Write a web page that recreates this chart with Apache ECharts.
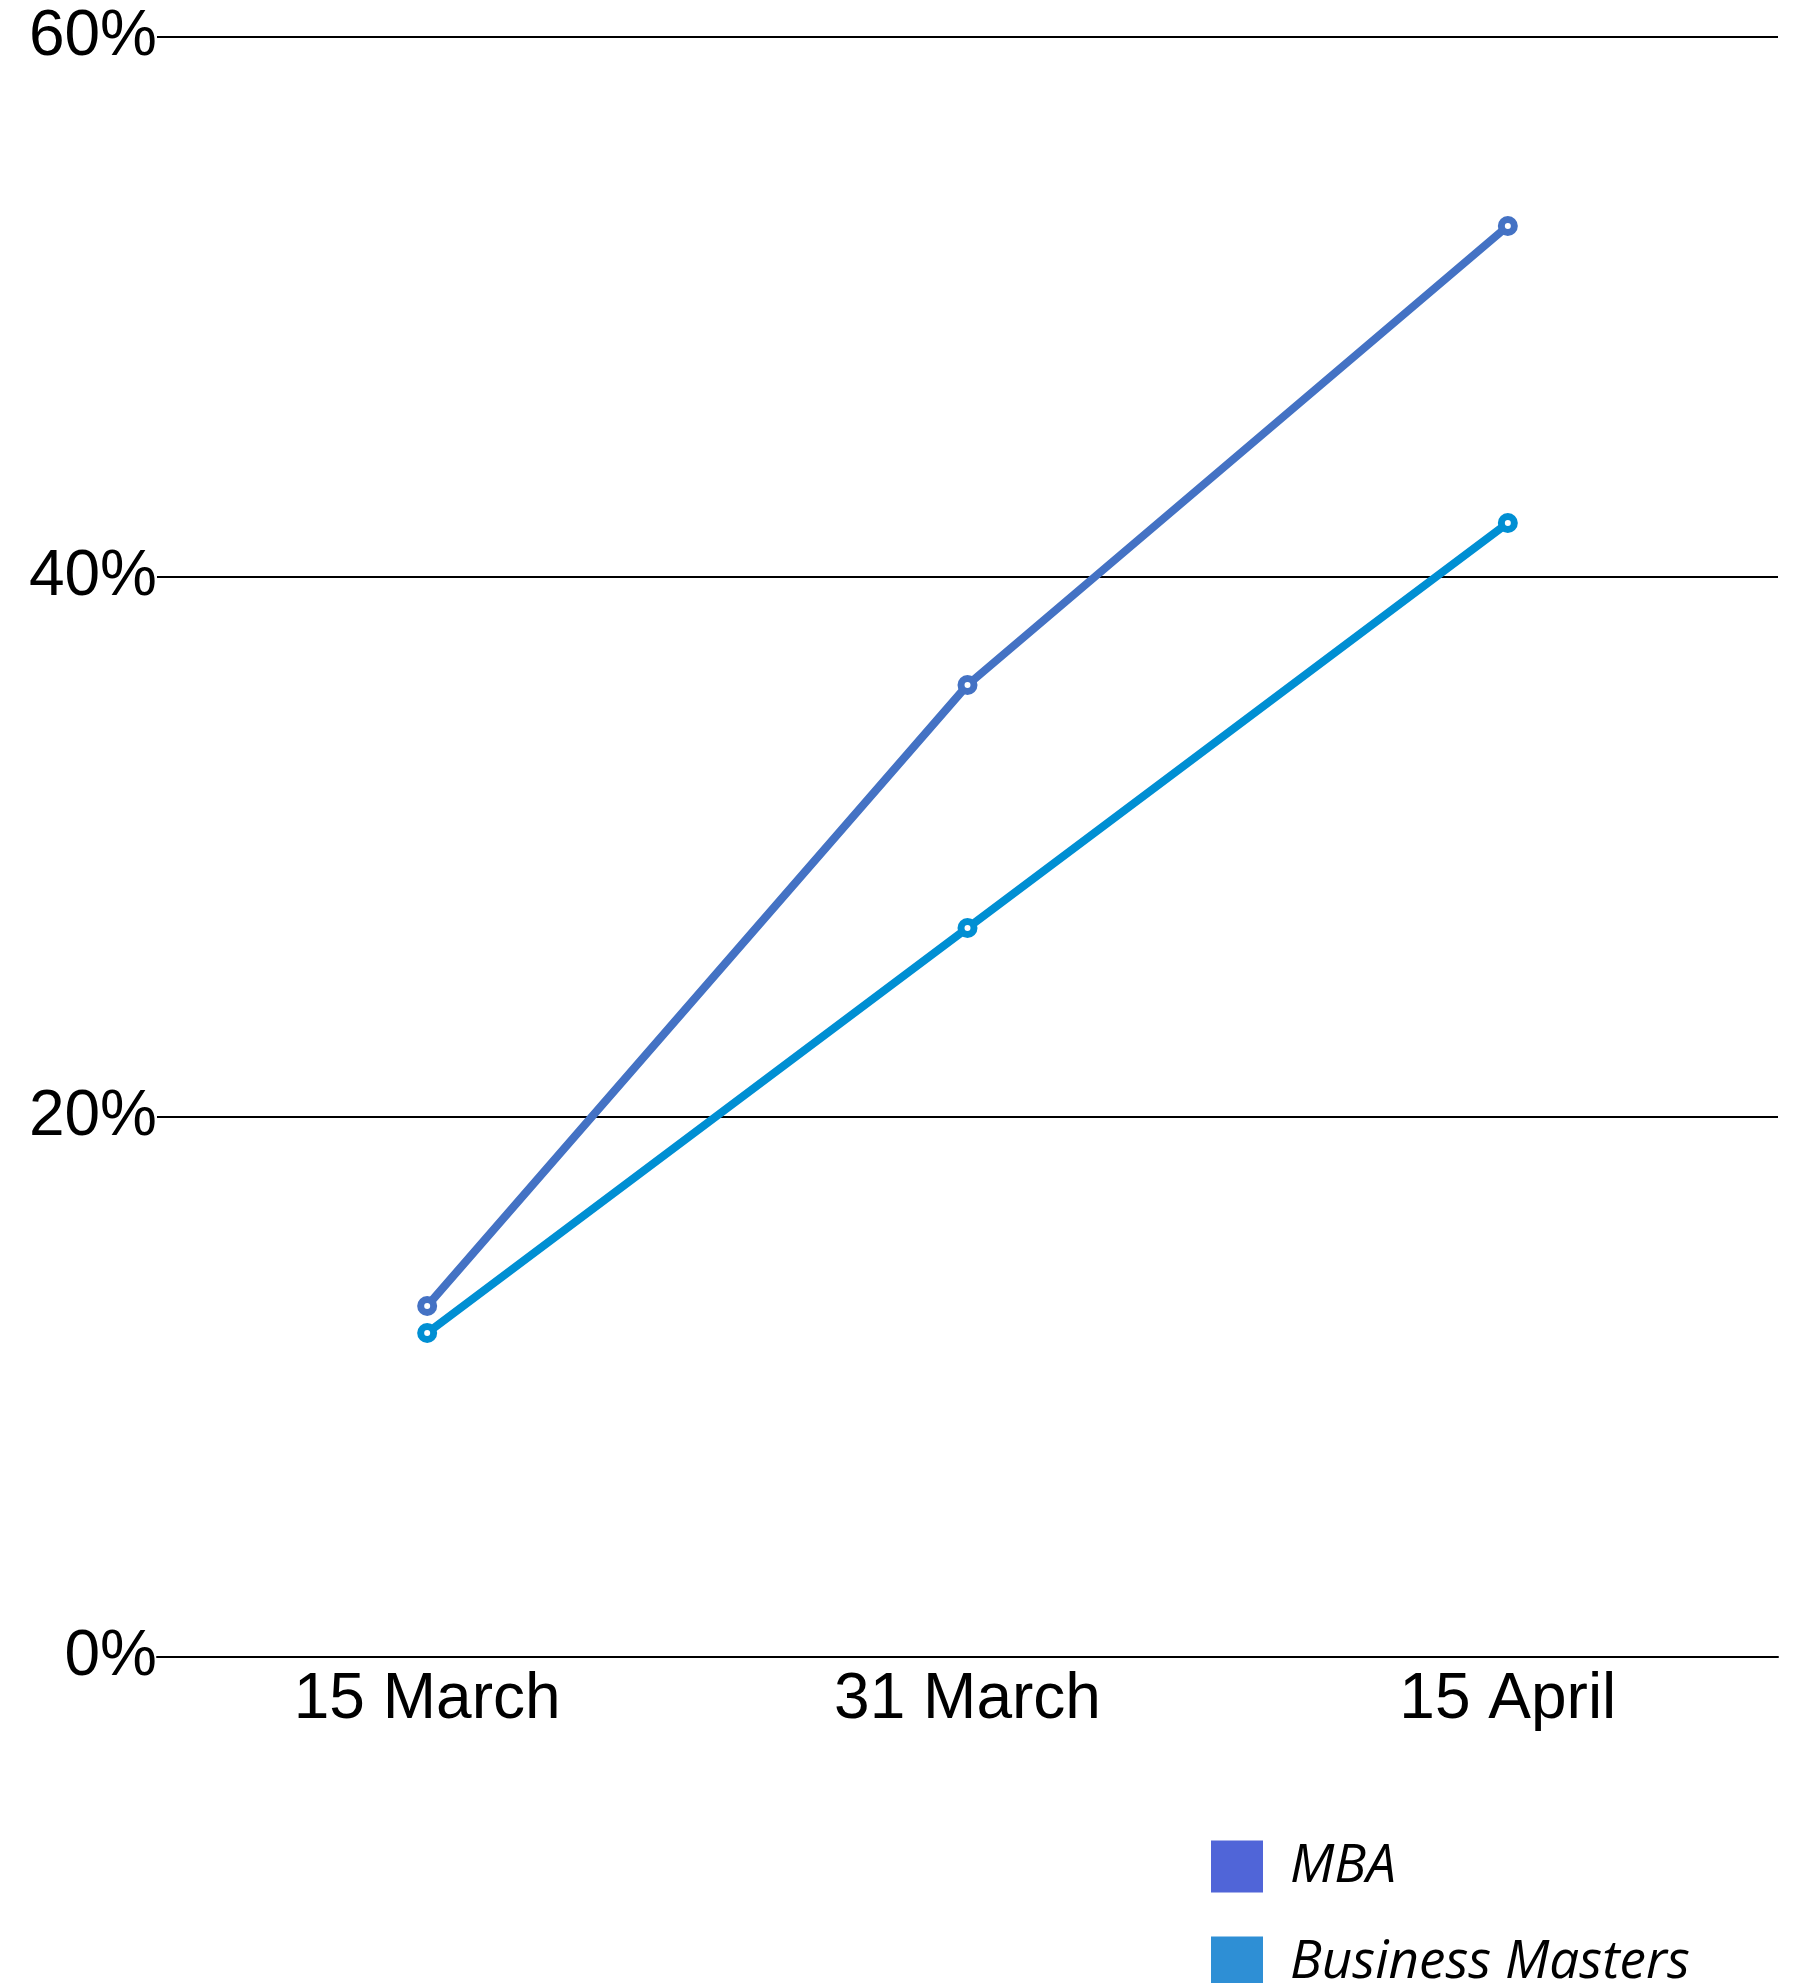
<!DOCTYPE html>
<html>
<head>
<meta charset="utf-8">
<style>
  html, body { margin: 0; padding: 0; background: #fff; }
  #main { width: 1802px; height: 1983px; }
</style>
<script src="https://cdn.jsdelivr.net/npm/echarts@6/dist/echarts.min.js"></script>
</head>
<body>
<div id="main"></div>
<script>
const categories = ['15 March', '31 March', '15 April']
const mbaValues = [13, 36, 53]
const mastersValues = [12, 27, 42]
const seriesNames = ['MBA', 'Business Masters']

const lineColors = ['#4472C4', '#008FD3']
const legendColors = ['#5065D8', '#2E8FD5']

const chart = echarts.init(document.getElementById('main'))
chart.setOption({
  animation: false,
  legend: {
    orient: 'vertical',
    left: 1211,
    top: 1840,
    width: 560,
    height: 300,
    padding: 0,
    itemWidth: 52,
    itemHeight: 52,
    itemGap: 43,
    icon: 'rect',
    data: seriesNames.map((n, i) => ({
      name: n,
      itemStyle: { color: legendColors[i], borderWidth: 0 }
    })),
    textStyle: {
      fontFamily: 'Open Sans',
      fontStyle: 'italic',
      fontSize: 53,
      color: '#000',
      padding: [0, 0, 0, 22]
    }
  },
  grid: {
    left: 157,
    right: 24,
    top: 37,
    bottom: 326
  },
  xAxis: {
    type: 'category',
    boundaryGap: true,
    data: categories,
    axisLine: { show: true, lineStyle: { color: '#000', width: 2 } },
    axisTick: { show: false },
    axisLabel: {
      margin: 11,
      color: '#000',
      fontFamily: 'Liberation Sans',
      fontSize: 64
    }
  },
  yAxis: {
    type: 'value',
    min: 0,
    max: 60,
    interval: 20,
    axisLine: { show: false },
    axisTick: { show: false },
    axisLabel: {
      margin: 0,
      formatter: '{value}%',
      color: '#000',
      fontFamily: 'Liberation Sans',
      fontSize: 64
    },
    splitLine: { show: true, lineStyle: { color: '#000', width: 2 } }
  },
  series: [
    {
      name: seriesNames[0],
      type: 'line',
      data: mbaValues,
      symbol: 'circle',
      symbolSize: 13,
      lineStyle: { color: lineColors[0], width: 8 },
      itemStyle: { color: '#fff', borderColor: lineColors[0], borderWidth: 7 }
    },
    {
      name: seriesNames[1],
      type: 'line',
      data: mastersValues,
      symbol: 'circle',
      symbolSize: 13,
      lineStyle: { color: lineColors[1], width: 8 },
      itemStyle: { color: '#fff', borderColor: lineColors[1], borderWidth: 7 }
    }
  ]
})
</script>
</body>
</html>
